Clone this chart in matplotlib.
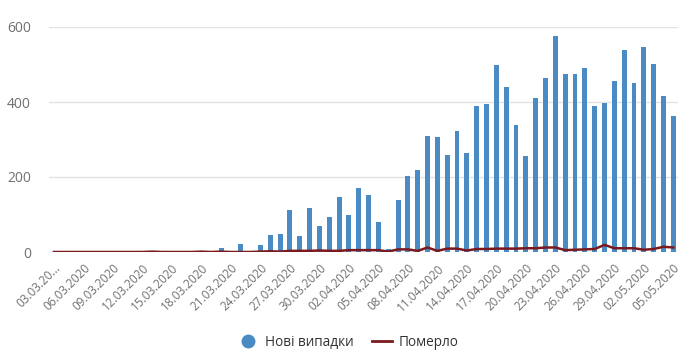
import matplotlib.pyplot as plt
from matplotlib.lines import Line2D
import numpy as np
import pandas as pd

plt.rcParams['font.family'] = ['Open Sans', 'DejaVu Sans']

dates = pd.date_range('2020-03-03', '2020-05-05').strftime('%d.%m.%Y').tolist()

new_cases = [0, 0, 0, 0, 0, 0, 0, 0, 0, 0, 0, 0, 0, 0, 0, 0,
             3, 10, 0, 21, 0, 19, 45, 47, 111, 42, 117, 70, 94, 146,
             100, 171, 151, 79, 8, 140, 202, 220, 309, 306, 260, 322,
             265, 389, 394, 498, 440, 340, 257, 411, 464, 575, 475, 475,
             490, 389, 397, 456, 539, 452, 547, 501, 415, 363]

deaths = [0, 0, 0, 0, 0, 0, 0, 0, 0, 0, 1, 0, 0, 0, 0, 1,
          0, 1, 0, 0, 0, 1, 2, 1, 3, 3, 3, 4, 3, 3,
          5, 5, 5, 5, 1, 7, 7, 3, 12, 3, 9, 9,
          4, 8, 8, 9, 9, 9, 10, 10, 12, 12, 5, 6,
          7, 8, 19, 10, 10, 10, 6, 8, 14, 12]

tick_labels = [d if i > 0 else '03.03.20...' for i, d in enumerate(dates)]

fig = plt.figure(figsize=(6.9, 3.6), dpi=100)
ax = fig.add_axes([0.071, 0.30, 0.912, 0.625])

x = np.arange(len(dates))
ax.bar(x, new_cases, width=0.5, color='#4a8bc3', zorder=2)
ax.plot(x, deaths, color='#7a1a1e', linewidth=1.8, zorder=3)

ax.set_xlim(-0.5, len(dates) - 0.5)
ax.set_ylim(0, 600)
ax.set_yticks([0, 200, 400, 600])
ax.yaxis.grid(True, color='#e3e3e3', linewidth=1)
ax.set_axisbelow(True)
for s in ax.spines.values():
    s.set_visible(False)

ax.set_xticks(x[::3])
ax.set_xticklabels(tick_labels[::3], rotation=45, ha='right', rotation_mode='anchor',
                   fontsize=8.5, color='#707070')
ax.tick_params(axis='both', length=0)
ax.tick_params(axis='x', pad=7)
ax.tick_params(axis='y', labelsize=10, labelcolor='#707070', pad=13)

handles = [Line2D([], [], marker='o', linestyle='none', markersize=9,
                  color='#4a8bc3', label='Нові випадки'),
           Line2D([], [], color='#7a1a1e', linewidth=2, label='Померло')]
fig.legend(handles=handles, loc='center', bbox_to_anchor=(0.505, 0.048), ncol=2,
           frameon=False, fontsize=9.8, labelcolor='#333333',
           handlelength=1.5, handletextpad=0.5, columnspacing=1.3)

fig.savefig('out.png', dpi=100)
